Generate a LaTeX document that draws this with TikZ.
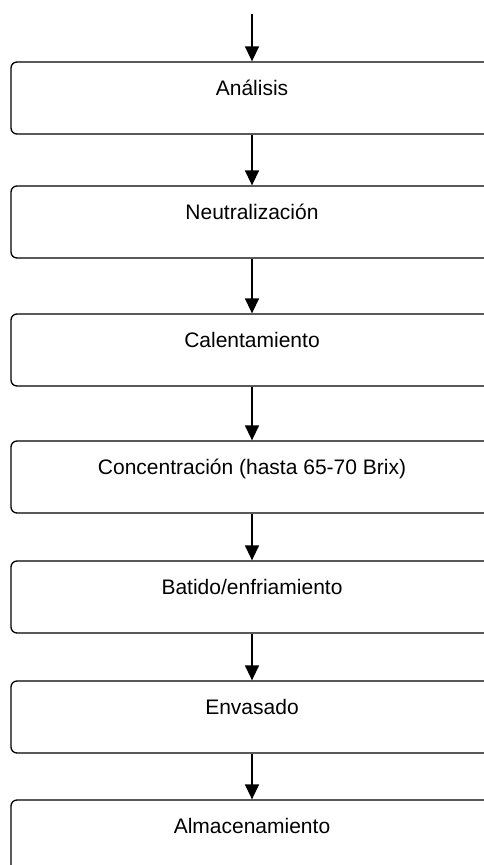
\documentclass[tikz,border=0pt]{standalone}
\usepackage{fontspec}
\setmainfont{Liberation Sans}
\usetikzlibrary{arrows.meta}

\begin{document}
\begin{tikzpicture}[x=1pt,y=1pt,
    paso/.style={draw,rounded corners=6pt,line width=1.3pt,minimum width=482pt,
      inner sep=0pt,text height=33pt,text depth=39pt,font=\fontsize{21}{25}\selectfont},
    flecha/.style={-{Triangle[length=15pt,width=14pt]},line width=1.5pt}]
            \useasboundingbox (0,0) rectangle (484,-865);

            \coordinate (E) at (252,-14);
            \node[paso] (A) at (252,-98) {Análisis};
            \node[paso] (N) at (252,-222) {Neutralización};
            \node[paso] (C) at (252,-350) {Calentamiento};
            \node[paso] (K) at (252,-477) {Concentración (hasta 65-70 Brix)};
            \node[paso] (B) at (252,-597) {Batido/enfriamiento};
            \node[paso] (V) at (252,-717) {Envasado};
            \node[paso] (M) at (252,-836) {Almacenamiento};

            \draw[flecha] (E) -- (A);
            \draw[flecha] (A) -- (N);
            \draw[flecha] (N) -- (C);
            \draw[flecha] (C) -- (K);
            \draw[flecha] (K) -- (B);
            \draw[flecha] (B) -- (V);
            \draw[flecha] (V) -- (M);
          \end{tikzpicture}
\end{document}
